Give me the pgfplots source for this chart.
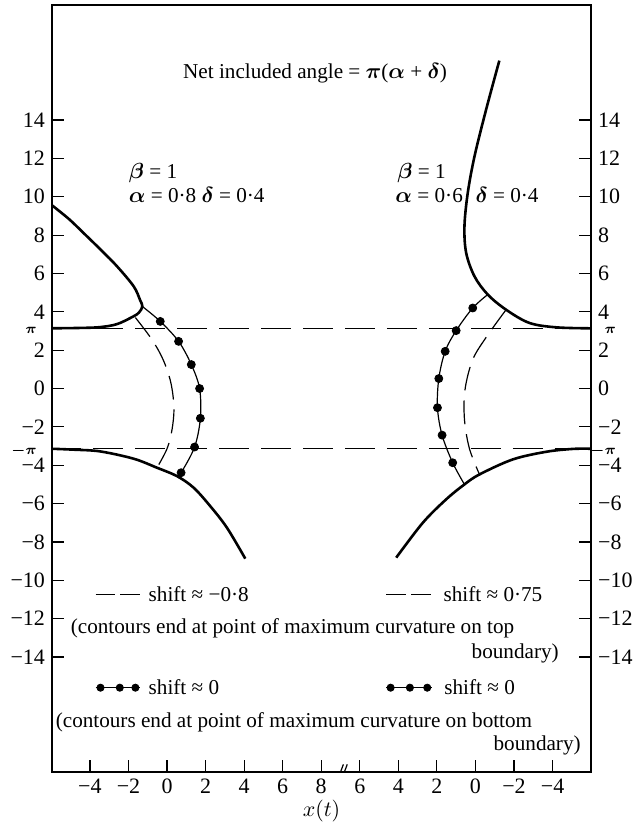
\documentclass[border=0pt]{standalone}
\usepackage{amsmath}
\usepackage{fontspec}
\setmainfont{Liberation Serif}
\usepackage{pgfplots}
\pgfplotsset{compat=1.18}

\newcommand{\bs}[1]{\ensuremath{\boldsymbol{#1}}}

% both panels share one frame: left panel uses x directly,
% right panel (x runs from right to left) is placed at u = 16 - x
\pgfplotsset{
  panel/.style={
    x=9.65pt, y=9.6pt,
    xmin=-5.97, xmax=22, ymin=-20, ymax=20,
    axis line style={line width=0.8pt},
    tick style={line width=0.6pt, black},
    tick align=inside,
    major tick length=6pt,
    ytick={-14,-12,...,14},
    yticklabels={−14,−12,−10,−8,−6,−4,−2,0,2,4,6,8,10,12,14},
    tick label style={font=\fontsize{11}{13}\selectfont},
    clip=true,
  },
  bound/.style={line width=1.3pt, black, smooth, tension=0.55},
  contour/.style={line width=0.6pt, black, smooth, tension=0.55},
  dcontour/.style={line width=0.6pt, black, smooth, tension=0.55,
    dash pattern=on 12pt off 5pt},
  dots/.style={only marks, mark=*, mark size=2pt, black},
}

\begin{document}
\begin{tikzpicture}
\begin{axis}[panel,
    ytick pos=left,
    xtick pos=bottom,
    xtick={-4,-2,0,2,4,6,8,10,12,14,16,18,20},
    xticklabels={−4,−2,0,2,4,6,8,6,4,2,0,−2,−4},
    extra y ticks={-3.14159,3.14159},
    extra y tick labels={\bs{-\pi},\bs{\pi}},
    extra y tick style={major tick length=0pt,
      yticklabel style={font=\fontsize{7.5}{9}\selectfont, xshift=-4pt, yshift=-1pt}},
    xlabel={\fontsize{11}{13}\selectfont $x(t)$},
    xlabel style={yshift=4pt},
  ]
  % lines y = pi and y = -pi
  \addplot[line width=0.6pt, dash pattern=on 15pt off 6pt] coordinates {(-6,3.14159) (22,3.14159)};
  \addplot[line width=0.6pt, dash pattern=on 15pt off 6pt] coordinates {(-6,-3.14159) (22,-3.14159)};

  % ---- left panel: alpha = 0.8, delta = 0.4 ----
  \addplot[bound] coordinates {
    (-6.0,9.58) (-5.1,8.85) (-4.32,8.1) (-3.4,7.2) (-2.59,6.37) (-1.73,5.33)
    (-1.40,4.62) (-1.28,4.28) (-1.45,3.97) (-1.73,3.77) (-2.59,3.36)
    (-3.5,3.2) (-4.5,3.16) (-6.0,3.14)};
  \addplot[bound] coordinates {
    (-6.0,-3.14) (-4.8,-3.19) (-3.46,-3.28) (-1.73,-3.66) (-0.52,-4.13)
    (0.52,-4.57) (1.38,-5.17) (2.24,-6.13) (3.11,-7.26) (4.06,-8.87)};
  \addplot[dcontour] coordinates {
    (-1.64,3.70) (-0.78,2.55) (-0.2,1.5) (0.2,0.3) (0.36,-1.0) (0.26,-2.14)
    (0.0,-3.14) (-0.52,-4.13)};
  \addplot[contour] coordinates {
    (-1.28,4.28) (-0.35,3.5) (0.6,2.46) (1.26,1.25) (1.69,0.0) (1.73,-1.55)
    (1.43,-3.05) (0.73,-4.39) (0.55,-4.52)};
  \addplot[dots] coordinates {
    (-0.35,3.5) (0.6,2.46) (1.26,1.25) (1.69,0.0) (1.73,-1.55) (1.43,-3.05) (0.73,-4.39)};

  % ---- right panel: alpha = 0.6, delta = 0.4 ----
  \addplot[bound] table[x expr=16-\thisrow{x}, y=y] {
    x y
    -1.24 17.1
    -0.55 14.53
    0.05 12.1
    0.40 10.19
    0.57 8.45
    0.48 7.07
    0.05 5.85
    -0.64 4.9
    -1.59 4.11
    -2.80 3.42
    -4.2 3.19
    -5.97 3.14
  };
  \addplot[bound] table[x expr=16-\thisrow{x}, y=y] {
    x y
    4.11 -8.82
    2.73 -7.0
    1.52 -5.78
    0.57 -5.0
    -0.21 -4.48
    -1.93 -3.70
    -3.66 -3.30
    -5.04 -3.15
    -5.97 -3.14
  };
  \addplot[dcontour] table[x expr=16-\thisrow{x}, y=y] {
    x y
    -1.59 4.11
    -0.59 2.72
    0.14 1.51
    0.54 -0.05
    0.57 -1.6
    0.31 -3.14
    -0.21 -4.48
  };
  \addplot[contour] table[x expr=16-\thisrow{x}, y=y] {
    x y
    -0.64 4.9
    0.14 4.2
    1.0 3.02
    1.57 1.94
    1.90 0.52
    1.97 -1.0
    1.73 -2.43
    1.18 -3.87
    0.57 -5.0
  };
  \addplot[dots] table[x expr=16-\thisrow{x}, y=y] {
    x y
    0.14 4.2
    1.0 3.02
    1.57 1.94
    1.90 0.52
    1.97 -1.0
    1.73 -2.43
    1.18 -3.87
  };

  % legend samples
  \addplot[line width=0.6pt, dash pattern=on 10pt off 2.5pt] coordinates {(-3.71,-10.73) (-1.38,-10.73)};
  \addplot[line width=0.6pt, dash pattern=on 10pt off 2.5pt] coordinates {(11.38,-10.73) (13.8,-10.73)};
  \addplot[line width=0.6pt] coordinates {(-3.71,-15.6) (-1.38,-15.6)};
  \addplot[dots, mark size=1.8pt] coordinates {(-3.45,-15.6) (-2.45,-15.6) (-1.64,-15.6)};
  \addplot[line width=0.6pt] coordinates {(11.38,-15.6) (13.76,-15.6)};
  \addplot[dots, mark size=1.8pt] coordinates {(11.6,-15.6) (12.6,-15.6) (13.5,-15.6)};

  % text
  \begin{scope}[every node/.style={font=\fontsize{10.6}{13}\selectfont, inner sep=0pt}]
  \node[anchor=base] at (axis cs:7.68,16.15) {Net included angle = \bs{\pi}(\bs{\alpha} + \bs{\delta})};
  \node[anchor=base west] at (axis cs:-2.0,10.95) {\bs{\beta} = 1};
  \node[anchor=base west] at (axis cs:-2.0,9.7) {\bs{\alpha} = 0·8 \bs{\delta} = 0·4};
  \node[anchor=base west] at (axis cs:11.93,10.95) {\bs{\beta} = 1};
  \node[anchor=base west] at (axis cs:11.83,9.7) {\bs{\alpha} = 0·6\hspace{0.6em}\bs{\delta} = 0·4};
  \node[anchor=base west] at (axis cs:-0.97,-11.08) {shift ≈ −0·8};
  \node[anchor=base west] at (axis cs:14.33,-11.08) {shift ≈ 0·75};
  \node[anchor=base west] at (axis cs:-5.01,-12.8) {(contours end at point of maximum curvature on top};
  \node[anchor=base east] at (axis cs:20.34,-14.1) {boundary)};
  \node[anchor=base west] at (axis cs:-0.97,-15.94) {shift ≈ 0};
  \node[anchor=base west] at (axis cs:14.37,-15.94) {shift ≈ 0};
  \node[anchor=base west] at (axis cs:-5.79,-17.66) {(contours end at point of maximum curvature on bottom};
  \node[anchor=base east] at (axis cs:21.48,-18.9) {boundary)};
  \end{scope}

  % axis break on the x axis
  \draw[line width=0.6pt] (axis cs:8.85,-20.4) -- (axis cs:9.15,-19.6);
  \draw[line width=0.6pt] (axis cs:9.05,-20.4) -- (axis cs:9.35,-19.6);

  \coordinate (bl) at (rel axis cs:0,0);
  \coordinate (tr) at (rel axis cs:1,1);
\end{axis}

% right-hand y ticks and labels
\begin{axis}[panel,
    xtick=\empty,
    ytick pos=right,
    yticklabel pos=right,
    extra y ticks={-3.14159,3.14159},
    extra y tick labels={\bs{-\pi},\bs{\pi}},
    extra y tick style={major tick length=0pt,
      yticklabel style={font=\fontsize{7.5}{9}\selectfont, anchor=east, xshift=16pt, yshift=-1pt}},
  ]
\end{axis}

\pgfresetboundingbox
\path[use as bounding box] ([xshift=-26pt,yshift=-27.5pt]bl) rectangle ([xshift=21.5pt,yshift=2.5pt]tr);
\end{tikzpicture}
\end{document}
